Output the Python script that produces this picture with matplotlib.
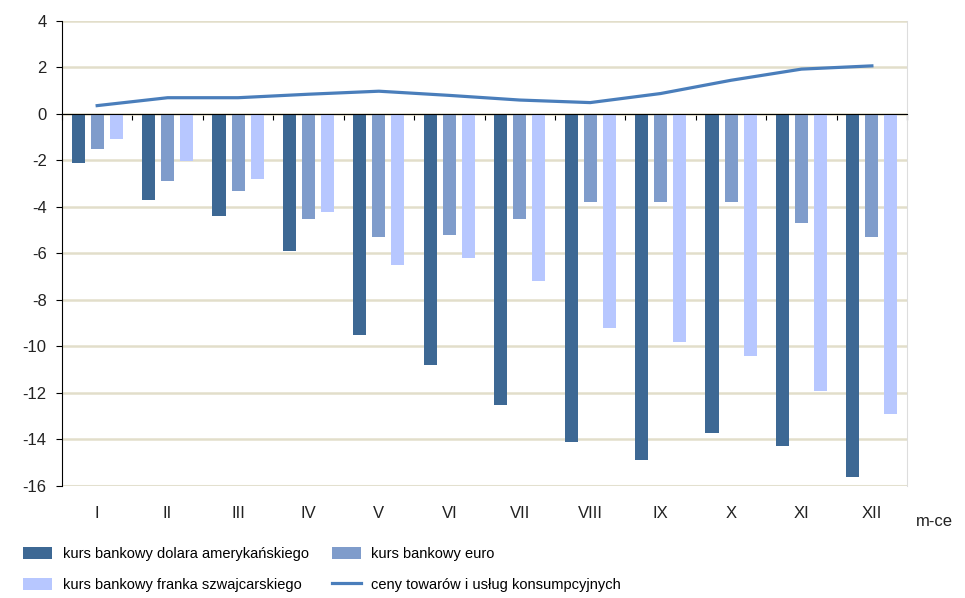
import numpy as np
import matplotlib
matplotlib.use("Agg")
import matplotlib.pyplot as plt
from matplotlib.transforms import blended_transform_factory

months = ["I", "II", "III", "IV", "V", "VI", "VII", "VIII", "IX", "X", "XI", "XII"]
usd = [-2.1, -3.7, -4.4, -5.9, -9.5, -10.8, -12.5, -14.1, -14.9, -13.7, -14.3, -15.6]
eur = [-1.5, -2.9, -3.3, -4.5, -5.3, -5.2, -4.5, -3.8, -3.8, -3.8, -4.7, -5.3]
chf = [-1.07, -2.03, -2.8, -4.2, -6.5, -6.2, -7.2, -9.2, -9.8, -10.4, -11.9, -12.9]
cpi = [0.36, 0.7, 0.7, 0.85, 0.98, 0.8, 0.6, 0.49, 0.88, 1.45, 1.93, 2.07]

labels = ["kurs bankowy dolara amerykańskiego", "kurs bankowy euro",
          "kurs bankowy franka szwajcarskiego", "ceny towarów i usług konsumpcyjnych"]

plt.rcParams['font.family'] = ['Liberation Sans', 'DejaVu Sans']
plt.rcParams['axes.unicode_minus'] = False

fig = plt.figure(figsize=(9.65, 5.98), dpi=100, facecolor='w')
ax = fig.add_axes([0.0642, 0.1873, 0.8758, 0.7776])

x = np.arange(len(months))
w = 0.185
off = 0.27
b1 = ax.bar(x - off, usd, w, color='#3D6894', zorder=3)
b2 = ax.bar(x, eur, w, color='#7F9CCB', zorder=3)
b3 = ax.bar(x + off, chf, w, color='#B7C7FF', zorder=3)
ln, = ax.plot(x, cpi, color='#4A7EBB', lw=2.3, zorder=4)

ax.set_xlim(-0.5, len(months) - 0.5)
ax.set_ylim(-16, 4)
ax.set_yticks(range(-16, 5, 2))
ax.yaxis.grid(True, color='#E2DECA', lw=1.8, zorder=0)
ax.tick_params(axis='y', labelsize=12, length=4, pad=7, colors='black', labelcolor='#222222')

# zero line with boundary ticks
ax.spines['bottom'].set_position(('data', 0))
ax.spines['bottom'].set_zorder(5)
ax.set_xticks(np.arange(-0.5, len(months), 1))
ax.set_xticklabels([])
ax.tick_params(axis='x', length=4, direction='out')
ax.spines['top'].set_visible(False)
ax.spines['right'].set_color('#DDDDDD')
ax.axhline(-16, color='#E8E8E0', lw=1.5, zorder=1)

trans = blended_transform_factory(ax.transData, ax.transAxes)
for i, m in enumerate(months):
    ax.text(i, -0.043, m, transform=trans, ha='center', va='top', fontsize=12, color='#222222')
ax.text(1.01, -0.06, "m-ce", transform=ax.transAxes, ha='left', va='top', fontsize=12, color='#222222')

fig.legend([b1, b3, b2, ln], [labels[0], labels[2], labels[1], labels[3]],
           ncol=2, loc='upper left', bbox_to_anchor=(0.0105, 0.107), frameon=False,
           fontsize=10.5, handlelength=2.0, handleheight=0.85,
           columnspacing=1.6, labelspacing=1.15, handletextpad=0.7)

fig.savefig("out.png", dpi=100)
